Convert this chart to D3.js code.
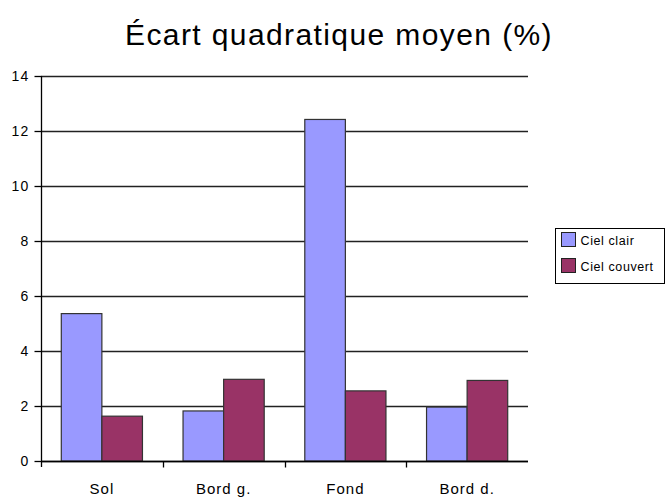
<!DOCTYPE html>
<html>
<head>
<meta charset="utf-8">
<script src="https://cdn.jsdelivr.net/npm/d3@7/dist/d3.min.js"></script>
<style>
  html, body { margin: 0; padding: 0; background: #fff; }
  svg { display: block; font-family: "Liberation Sans", Arial, sans-serif; }
</style>
</head>
<body>
<svg id="chart" width="667" height="499"></svg>
<script>
const categories = ["Sol", "Bord g.", "Fond", "Bord d."];
const seriesNames = ["Ciel clair", "Ciel couvert"];
const cielClair = [5.36, 1.82, 12.42, 1.96];
const cielCouvert = [1.63, 2.97, 2.55, 2.93];
const yTicks = [0, 2, 4, 6, 8, 10, 12, 14];
const colors = ["#9999ff", "#993366"];

const svg = d3.select("#chart");
const plot = { left: 41, right: 528, top: 76, bottom: 461 };

const x = d3.scaleBand().domain(categories).range([plot.left, plot.right]).paddingInner(0).paddingOuter(0);
const x1 = d3.scaleBand().domain(seriesNames).range([0, x.bandwidth()]).paddingInner(0).paddingOuter(0.5);
const y = d3.scaleLinear().domain([0, 14]).range([plot.bottom, plot.top]);

// Title
svg.append("text")
  .attr("x", 339).attr("y", 45)
  .attr("text-anchor", "middle")
  .attr("font-size", 30)
  .attr("letter-spacing", 1.4)
  .attr("fill", "#000")
  .text("Écart quadratique moyen (%)");

// Horizontal grid lines
svg.append("g")
  .selectAll("line")
  .data(yTicks)
  .join("line")
  .attr("x1", plot.left).attr("x2", plot.right)
  .attr("y1", d => Math.round(y(d)) + 0.5).attr("y2", d => Math.round(y(d)) + 0.5)
  .attr("stroke", "#222").attr("stroke-width", 1.3);

// Bars
const data = categories.map((c, i) => ({ cat: c, vals: [cielClair[i], cielCouvert[i]] }));
const groups = svg.append("g").selectAll("g")
  .data(data).join("g")
  .attr("transform", d => `translate(${x(d.cat)},0)`);
groups.selectAll("rect")
  .data(d => d.vals.map((v, j) => ({ v, s: seriesNames[j], j })))
  .join("rect")
  .attr("x", d => x1(d.s))
  .attr("width", x1.bandwidth())
  .attr("y", d => y(d.v))
  .attr("height", d => y(0) - y(d.v))
  .attr("fill", d => colors[d.j])
  .attr("stroke", "#333").attr("stroke-width", 1.2);

// Y axis
const yAxis = d3.axisLeft(y).tickValues(yTicks).tickSize(7).tickPadding(5).tickFormat(d3.format("d"));
const gy = svg.append("g").attr("transform", `translate(${plot.left + 0.5},0)`).call(yAxis);
gy.select(".domain").attr("stroke", "#000").attr("stroke-width", 1.3).attr("d", `M0,${plot.top}V${plot.bottom + 6}`);
gy.selectAll(".tick line").attr("stroke", "#000").attr("stroke-width", 1.3);
gy.selectAll(".tick text").attr("font-size", 14).attr("letter-spacing", 1.2).attr("fill", "#000")
  .attr("font-family", "Liberation Sans, Arial, sans-serif");

// X axis
const xAxis = d3.axisBottom(x).tickSize(0).tickPadding(20);
const gx = svg.append("g").attr("transform", `translate(0,${plot.bottom + 0.5})`).call(xAxis);
gx.select(".domain").attr("stroke", "#000").attr("stroke-width", 1.3).attr("d", `M${plot.left},0H${plot.right}`);
gx.selectAll(".tick text").attr("font-size", 15).attr("letter-spacing", 1).attr("fill", "#000")
  .attr("dy", null).attr("y", 32)
  .attr("font-family", "Liberation Sans, Arial, sans-serif");
// Category separator ticks
const sepPos = categories.slice(1).map(c => x(c));
gx.selectAll(".sep").data(sepPos).join("line")
  .attr("class", "sep")
  .attr("x1", d => Math.round(d) + 0.5).attr("x2", d => Math.round(d) + 0.5)
  .attr("y1", 0).attr("y2", 6)
  .attr("stroke", "#000").attr("stroke-width", 1.3);

// Legend
const legend = svg.append("g").attr("transform", "translate(555.5,228.5)");
legend.append("rect").attr("width", 109).attr("height", 55)
  .attr("fill", "#fff").attr("stroke", "#000").attr("stroke-width", 1);
seriesNames.forEach((name, i) => {
  const g = legend.append("g").attr("transform", `translate(6,${4 + i * 26})`);
  g.append("rect").attr("width", 14).attr("height", 14)
    .attr("fill", colors[i]).attr("stroke", "#222").attr("stroke-width", 1);
  g.append("text").attr("x", 19).attr("y", 12)
    .attr("font-size", 12.5).attr("letter-spacing", 0.6).attr("fill", "#000").text(name);
});
</script>
</body>
</html>
